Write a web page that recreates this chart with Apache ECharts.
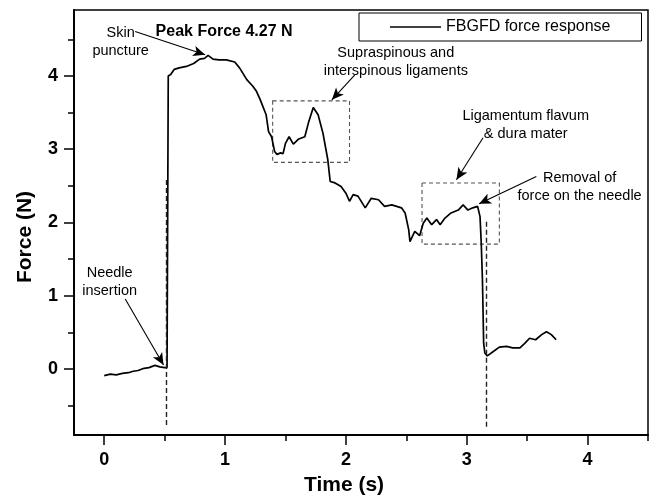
<!DOCTYPE html>
<html>
<head>
<meta charset="utf-8">
<script src="https://cdn.jsdelivr.net/npm/echarts@6/dist/echarts.min.js"></script>
<style>
  html, body { margin: 0; padding: 0; background: #fff; }
  #chart { width: 654px; height: 498px; }
</style>
</head>
<body>
<div id="chart"></div>
<script>
// force trace (time in s, force in N)
var time = [0.00, 0.05, 0.10, 0.15, 0.20, 0.24, 0.28, 0.33, 0.37, 0.42, 0.46, 0.50, 0.52, 0.53,
  0.53, 0.55, 0.58, 0.62, 0.68, 0.74, 0.79, 0.83, 0.86, 0.90, 0.95, 1.01, 1.08, 1.12, 1.18,
  1.23, 1.26, 1.29, 1.34, 1.36, 1.385, 1.41, 1.43, 1.46, 1.48, 1.50, 1.53, 1.565, 1.61, 1.66,
  1.69, 1.73, 1.77, 1.81, 1.85, 1.87, 1.91, 1.96, 2.00, 2.03, 2.06, 2.10, 2.16, 2.21, 2.27,
  2.32, 2.38, 2.46, 2.49, 2.52, 2.53, 2.57, 2.61, 2.64, 2.67, 2.71, 2.75, 2.78, 2.82, 2.87,
  2.93, 2.97, 3.01, 3.05, 3.09, 3.11, 3.12, 3.13, 3.14, 3.15, 3.17, 3.22, 3.27, 3.33, 3.38,
  3.44, 3.48, 3.52, 3.57, 3.62, 3.66, 3.70, 3.74];
var force = [-0.09, -0.07, -0.08, -0.06, -0.05, -0.03, -0.02, 0.01, 0.02, 0.05, 0.03, 0.02, 0.02, 0.02,
  4.00, 4.02, 4.09, 4.11, 4.13, 4.17, 4.23, 4.24, 4.28, 4.23, 4.22, 4.22, 4.19, 4.11, 3.95,
  3.86, 3.79, 3.68, 3.47, 3.24, 3.17, 2.97, 2.93, 2.95, 2.94, 3.08, 3.17, 3.07, 3.14, 3.17,
  3.36, 3.57, 3.47, 3.22, 2.86, 2.56, 2.54, 2.49, 2.40, 2.29, 2.38, 2.36, 2.20, 2.33, 2.31,
  2.22, 2.24, 2.20, 2.13, 1.90, 1.74, 1.88, 1.82, 1.99, 2.06, 1.97, 2.04, 1.97, 2.06, 2.13,
  2.17, 2.24, 2.17, 2.20, 2.22, 2.08, 1.72, 1.22, 0.35, 0.22, 0.18, 0.24, 0.30, 0.31, 0.29,
  0.29, 0.35, 0.42, 0.40, 0.47, 0.51, 0.47, 0.40];

var xTicks = [0, 1, 2, 3, 4];
var xMinorTicks = [0.5, 1.5, 2.5, 3.5, 4.5];
var yTicks = [0, 1, 2, 3, 4];
var yMinorTicks = [-0.5, 0.5, 1.5, 2.5, 3.5, 4.5];

// vertical dashed markers [x, yTop, yBottom]
var dashLines = [[0.51, 2.58, -0.8], [3.16, 2.01, -0.8]];
// dashed boxes [x0, x1, y0, y1]
var boxes = [[1.394, 2.03, 2.82, 3.66], [2.63, 3.27, 1.705, 2.54]];
// arrows [x0, y0, x1, y1]
var arrows = [
  [0.256, 4.606, 0.835, 4.288],
  [2.074, 4.015, 1.884, 3.674],
  [3.135, 3.156, 2.915, 2.583],
  [3.576, 2.628, 3.102, 2.255],
  [0.174, 0.955, 0.491, 0.056]
];
// notes [text, x, y, bold]
var notes = [
  ['Skin\npuncture', 0.136, 4.46, false],
  ['Peak Force 4.27 N', 0.992, 4.60, true],
  ['Supraspinous and\ninterspinous ligaments', 2.413, 4.186, false],
  ['Ligamentum flavum\n& dura mater', 3.488, 3.326, false],
  ['Removal of\nforce on the needle', 3.934, 2.48, false],
  ['Needle\ninsertion', 0.045, 1.184, false]
];

var FONT = 'Liberation Sans, Arial, sans-serif';

var points = time.map(function (t, i) { return [t, force[i]]; });

var lineData = dashLines.map(function (d) {
  return [{ coord: [d[0], d[1]] }, { coord: [d[0], d[2]] }];
});
var arrowData = arrows.map(function (a) {
  return [{ coord: [a[0], a[1]] }, { coord: [a[2], a[3]] }];
});
var areaData = boxes.map(function (b) {
  return [{ coord: [b[0], b[3]] }, { coord: [b[1], b[2]] }];
});

var chart = echarts.init(document.getElementById('chart'));

var tickStyle = { color: '#000', width: 1.5 };
var option = {
  animation: false,
  backgroundColor: '#fff',
  textStyle: { fontFamily: FONT },
  grid: {
    left: 74, right: 6, top: 10, bottom: 63,
    show: true, borderColor: '#000', borderWidth: 1.5, backgroundColor: 'transparent'
  },
  legend: {
    left: 359, top: 13,
    data: [{ name: 'FBGFD force response', icon: 'rect' }],
    itemWidth: 51, itemHeight: 1.4,
    itemStyle: { color: '#000' },
    padding: [6, 31, 6, 31],
    borderColor: '#000', borderWidth: 1,
    textStyle: { fontSize: 16, color: '#000', fontFamily: FONT, lineHeight: 16 }
  },
  xAxis: [{
    type: 'value', min: -0.25, max: 4.5, position: 'bottom',
    axisLine: { show: true, onZero: false, lineStyle: { color: '#000', width: 2 } },
    axisTick: { show: true, customValues: xTicks, length: 10, lineStyle: tickStyle },
    axisLabel: { show: true, customValues: xTicks, margin: 16, fontSize: 18, fontWeight: 'bold', color: '#000', fontFamily: FONT },
    splitLine: { show: false }
  }, {
    type: 'value', min: -0.25, max: 4.5, position: 'bottom', offset: 0,
    axisLine: { show: false, onZero: false },
    axisTick: { show: true, customValues: xMinorTicks, length: 6, lineStyle: tickStyle },
    axisLabel: { show: false },
    splitLine: { show: false }
  }],
  yAxis: [{
    type: 'value', min: -0.9, max: 4.9, position: 'left',
    axisLine: { show: true, onZero: false, lineStyle: { color: '#000', width: 2 } },
    axisTick: { show: true, customValues: yTicks, length: 10, lineStyle: tickStyle },
    axisLabel: { show: true, customValues: yTicks, margin: 16, fontSize: 18, fontWeight: 'bold', color: '#000', fontFamily: FONT },
    splitLine: { show: false }
  }, {
    type: 'value', min: -0.9, max: 4.9, position: 'left', offset: 0,
    axisLine: { show: false, onZero: false },
    axisTick: { show: true, customValues: yMinorTicks, length: 6, lineStyle: tickStyle },
    axisLabel: { show: false },
    splitLine: { show: false }
  }],
  series: [{
    name: 'FBGFD force response',
    type: 'line',
    xAxisIndex: 0, yAxisIndex: 0,
    data: points,
    symbol: 'none',
    color: '#000',
    lineStyle: { color: '#000', width: 1.7 },
    markArea: {
      silent: true,
      itemStyle: { color: 'rgba(0,0,0,0)', borderColor: '#555', borderWidth: 1.1, borderType: [4, 3] },
      data: areaData
    },
    markLine: {
      silent: true,
      symbol: ['none', 'none'],
      label: { show: false },
      lineStyle: { color: '#222', width: 1.4, type: [5, 3] },
      data: lineData
    }
  }, {
    type: 'line',
    xAxisIndex: 0, yAxisIndex: 0,
    data: [],
    markLine: {
      silent: true,
      symbol: ['none', 'arrow'],
      symbolSize: [8, 12],
      label: { show: false },
      lineStyle: { color: '#000', width: 1.1, type: 'solid' },
      data: arrowData
    }
  }]
};
chart.setOption(option);

// text annotations placed from data coordinates
var graphics = notes.map(function (n) {
  var p = chart.convertToPixel({ gridIndex: 0 }, [n[1], n[2]]);
  return {
    type: 'text', x: p[0], y: p[1], silent: true,
    style: {
      text: n[0], align: 'center', verticalAlign: 'middle', lineHeight: 18,
      font: (n[3] ? 'bold 16px ' : '14.5px ') + FONT, fill: '#000'
    }
  };
});
graphics.push({
  type: 'text', x: 344, y: 485, silent: true,
  style: { text: 'Time (s)', align: 'center', verticalAlign: 'middle', font: 'bold 21px ' + FONT, fill: '#000' }
});
graphics.push({
  type: 'text', x: 25, y: 237, rotation: Math.PI / 2, silent: true,
  style: { text: 'Force (N)', align: 'center', verticalAlign: 'middle', font: 'bold 21px ' + FONT, fill: '#000' }
});
chart.setOption({ graphic: graphics });
</script>
</body>
</html>
